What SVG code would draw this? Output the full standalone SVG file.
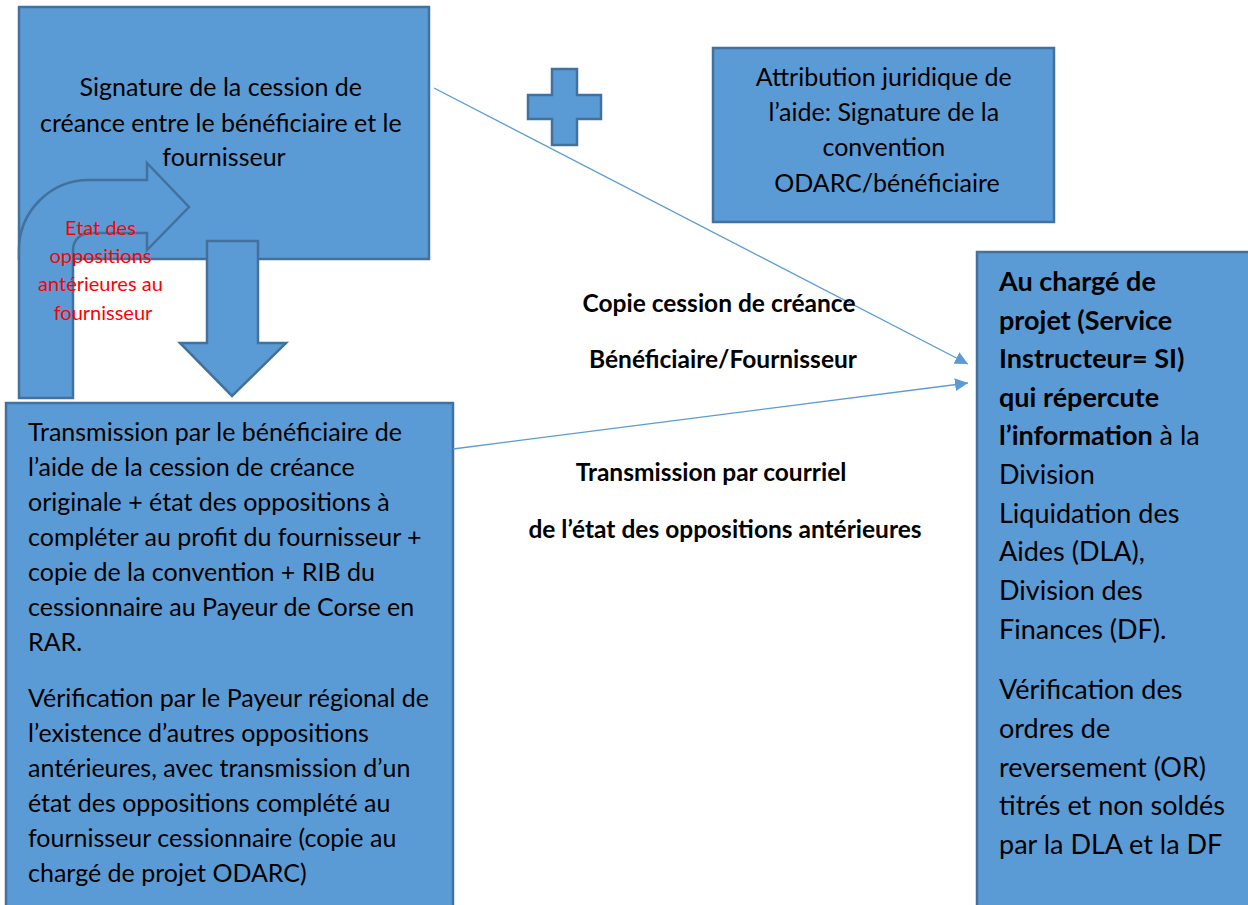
<svg xmlns="http://www.w3.org/2000/svg" width="1248" height="905" viewBox="0 0 1248 905">
<defs>
<style>
.shape{fill:#5B9BD5;stroke:#41719C;stroke-width:2.5}
.t{font-family:Lato,"Liberation Sans",sans-serif;font-size:25px;fill:#000}
.tr{font-family:Lato,"Liberation Sans",sans-serif;font-size:27px;fill:#000}
.red{font-family:Lato,"Liberation Sans",sans-serif;font-size:20px;fill:#FF0000}
.lbl{font-family:Lato,"Liberation Sans",sans-serif;font-size:24.5px;font-weight:bold;fill:#000}
.b{font-weight:bold}
.conn{stroke:#5B9BD5;stroke-width:1.3;fill:none}
</style>
<marker id="ah" viewBox="0 0 10 10" refX="10" refY="5" markerWidth="13" markerHeight="13" markerUnits="userSpaceOnUse" orient="auto">
<path d="M0,0 L10,5 L0,10 Z" fill="#5B9BD5"/>
</marker>
</defs>
<rect width="1248" height="905" fill="#fff"/>

<g id="node-signature">
<rect class="shape" x="19" y="7" width="410" height="252"/>
<text class="t" text-anchor="middle">
<tspan x="224" y="96">Signature de la cession de</tspan>
<tspan x="224" y="132">créance entre le bénéficiaire et le</tspan>
<tspan x="224" y="166">fournisseur</tspan>
</text>
</g>

<g id="node-bent-arrow">
<path class="shape" d="M19,398 L19,250 A70,70 0 0 1 89,180 L147,180 L147,163 L189,207 L147,250 L147,233 L90,233 A17,17 0 0 0 73,250 L73,398 Z"/>
</g>

<g id="node-down-arrow">
<path class="shape" d="M207,241 L258,241 L258,343 L286,343 L232,396 L180,343 L207,343 Z"/>
</g>

<g id="node-red-label">
<text class="red" text-anchor="middle">
<tspan x="103" y="235">Etat des</tspan>
<tspan x="103" y="263">oppositions</tspan>
<tspan x="103" y="291">antérieures au</tspan>
<tspan x="103" y="320">fournisseur</tspan>
</text>
</g>

<g id="node-plus">
<path class="shape" d="M552,69 L577,69 L577,95 L601,95 L601,119 L577,119 L577,145 L552,145 L552,119 L528,119 L528,95 L552,95 Z"/>
</g>

<g id="node-attribution">
<rect class="shape" x="713" y="48" width="341" height="174"/>
<text class="t" text-anchor="middle">
<tspan x="887" y="86">Attribution juridique de</tspan>
<tspan x="887" y="121">l’aide: Signature de la</tspan>
<tspan x="887" y="156">convention</tspan>
<tspan x="887" y="192">ODARC/bénéficiaire</tspan>
</text>
</g>

<g id="node-transmission">
<rect class="shape" x="6" y="403" width="447" height="520"/>
<text class="t">
<tspan x="28" y="441">Transmission par le bénéficiaire de</tspan>
<tspan x="28" y="476">l’aide de la cession de créance</tspan>
<tspan x="28" y="511">originale + état des oppositions à</tspan>
<tspan x="28" y="546">compléter au profit du fournisseur +</tspan>
<tspan x="28" y="581">copie de la convention + RIB du</tspan>
<tspan x="28" y="616">cessionnaire au Payeur de Corse en</tspan>
<tspan x="28" y="651">RAR.</tspan>
<tspan x="28" y="707">Vérification par le Payeur régional de</tspan>
<tspan x="28" y="742">l’existence d’autres oppositions</tspan>
<tspan x="28" y="777">antérieures, avec transmission d’un</tspan>
<tspan x="28" y="812">état des oppositions complété au</tspan>
<tspan x="28" y="847">fournisseur cessionnaire (copie au</tspan>
<tspan x="28" y="882">chargé de projet ODARC)</tspan>
</text>
</g>

<g id="node-charge-projet">
<rect class="shape" x="977" y="252" width="290" height="670"/>
<text class="tr">
<tspan x="999" y="291" class="b">Au chargé de</tspan>
<tspan x="999" y="330" class="b">projet (Service</tspan>
<tspan x="999" y="368" class="b">Instructeur= SI)</tspan>
<tspan x="999" y="407" class="b">qui répercute</tspan>
<tspan x="999" y="445"><tspan class="b">l’information</tspan> à la</tspan>
<tspan x="999" y="484">Division</tspan>
<tspan x="999" y="523">Liquidation des</tspan>
<tspan x="999" y="561">Aides (DLA),</tspan>
<tspan x="999" y="600">Division des</tspan>
<tspan x="999" y="639">Finances (DF).</tspan>
<tspan x="999" y="699">Vérification des</tspan>
<tspan x="999" y="738">ordres de</tspan>
<tspan x="999" y="777">reversement (OR)</tspan>
<tspan x="999" y="815">titrés et non soldés</tspan>
<tspan x="999" y="854">par la DLA et la DF</tspan>
</text>
</g>

<g id="connectors">
<line class="conn" x1="434" y1="88" x2="968" y2="364" marker-end="url(#ah)"/>
<line class="conn" x1="453" y1="449" x2="968" y2="383" marker-end="url(#ah)"/>
</g>

<g id="connector-labels">
<text class="lbl" text-anchor="middle" x="719" y="312">Copie cession de créance</text>
<text class="lbl" text-anchor="middle" x="723" y="368">Bénéficiaire/Fournisseur</text>
<text class="lbl" text-anchor="middle" x="711" y="481">Transmission par courriel</text>
<text class="lbl" text-anchor="middle" x="725" y="538">de l’état des oppositions antérieures</text>
</g>
</svg>
